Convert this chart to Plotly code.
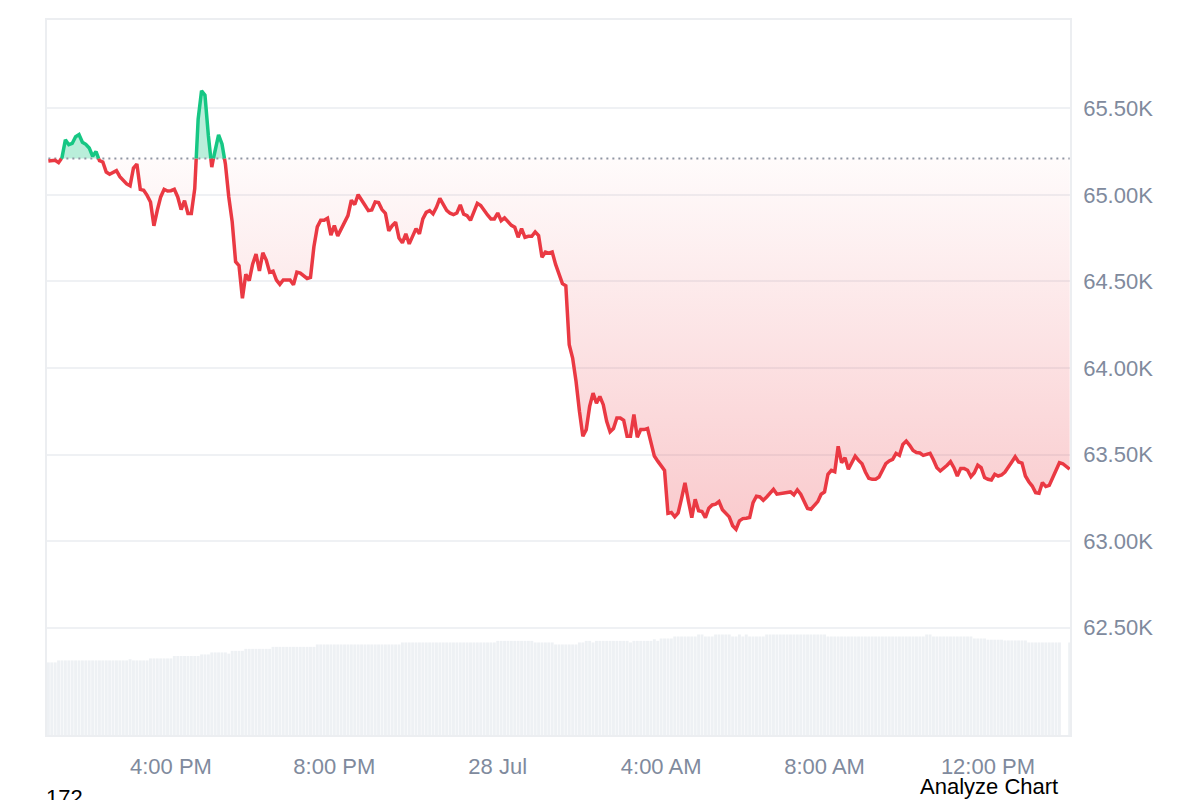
import plotly.graph_objects as go
import pandas as pd

# BTC price, 5 minute steps from 27 Jul 13:00 to 28 Jul 14:00
price = [
    65195, 65197, 65200, 65186, 65215, 65318, 65290, 65297, 65336, 65348,
    65304, 65292, 65271, 65223, 65250, 65198, 65190, 65132, 65119, 65132,
    65140, 65105, 65082, 65063, 65052, 65155, 65178, 65032, 65026, 64997,
    64959, 64821, 64911, 64988, 65032, 65022, 65024, 65032, 64988, 64915,
    64967, 64892, 64892, 65036, 65438, 65601, 65576, 65342, 65160, 65265,
    65346, 65294, 65179, 64988, 64844, 64614, 64591, 64403, 64541, 64505,
    64600, 64658, 64560, 64665, 64623, 64553, 64559, 64508, 64483, 64508,
    64508, 64508, 64481, 64553, 64548, 64534, 64517, 64523, 64700, 64815,
    64853, 64853, 64865, 64767, 64822, 64763, 64800, 64838, 64880, 64969,
    64944, 65001, 64974, 64940, 64909, 64913, 64959, 64955, 64915, 64894,
    64792, 64822, 64842, 64750, 64723, 64775, 64717, 64761, 64805, 64775,
    64861, 64899, 64909, 64890, 64928, 64980, 64942, 64911, 64894, 64886,
    64895, 64942, 64888, 64880, 64853, 64903, 64951, 64938, 64909, 64884,
    64861, 64861, 64895, 64851, 64867, 64842, 64824, 64813, 64755, 64805,
    64755, 64761, 64761, 64786, 64765, 64640, 64669, 64663, 64670, 64598,
    64536, 64487, 64475, 64134, 64057, 63923, 63750, 63606, 63644, 63778,
    63855, 63797, 63835, 63788, 63692, 63631, 63650, 63711, 63711, 63698,
    63606, 63606, 63731, 63600, 63644, 63644, 63650, 63567, 63491, 63462,
    63433, 63408, 63160, 63165, 63140, 63163, 63247, 63337, 63232, 63136,
    63242, 63175, 63171, 63136, 63190, 63209, 63213, 63228, 63181, 63159,
    63140, 63089, 63068, 63117, 63130, 63132, 63136, 63222, 63259, 63255,
    63236, 63255, 63280, 63299, 63271, 63274, 63274, 63278, 63284, 63267,
    63296, 63271, 63228, 63188, 63184, 63203, 63228, 63271, 63284, 63386,
    63409, 63401, 63548, 63453, 63482, 63415, 63453, 63491, 63466, 63447,
    63399, 63363, 63357, 63357, 63370, 63409, 63447, 63463, 63472, 63507,
    63495, 63558, 63578, 63553, 63524, 63512, 63509, 63495, 63501, 63507,
    63468, 63424, 63405, 63420, 63438, 63459, 63424, 63376, 63420, 63420,
    63409, 63372, 63395, 63438, 63424, 63367, 63357, 63353, 63386, 63376,
    63382, 63399, 63424, 63457, 63487, 63457, 63451, 63376, 63343, 63318,
    63280, 63276, 63338, 63315, 63322, 63367, 63409, 63453, 63447, 63432,
    63415,
]

# volume per bar (B)
volume = [
    18.2, 18.2, 18.2, 18.7, 18.7, 18.7, 18.7, 18.7, 18.7, 18.7,
    18.7, 18.7, 18.7, 18.7, 18.7, 18.7, 18.7, 18.7, 18.7, 18.7,
    18.7, 18.7, 18.7, 18.7, 19.0, 18.7, 18.7, 18.7, 18.7, 18.7,
    19.2, 19.2, 19.2, 19.2, 19.2, 19.2, 19.2, 19.8, 19.8, 19.8,
    19.8, 19.8, 19.8, 19.8, 19.8, 20.2, 20.2, 20.2, 20.7, 20.7,
    20.7, 20.7, 20.7, 20.4, 21.1, 21.1, 21.1, 21.1, 21.6, 21.6,
    21.6, 21.6, 21.6, 21.6, 21.6, 21.6, 22.1, 22.1, 22.1, 22.1,
    22.1, 22.1, 22.1, 22.1, 22.1, 22.1, 22.1, 22.1, 22.1, 22.7,
    22.7, 22.7, 22.7, 22.7, 22.7, 22.7, 22.7, 22.7, 22.7, 22.7,
    22.7, 22.7, 22.7, 22.7, 22.7, 22.7, 22.7, 22.7, 22.7, 22.7,
    22.7, 22.7, 22.7, 22.7, 23.2, 23.2, 23.2, 23.2, 23.2, 23.2,
    23.2, 23.2, 23.2, 23.2, 23.2, 23.2, 23.2, 23.2, 23.2, 23.2,
    23.2, 23.2, 23.2, 23.2, 23.2, 23.2, 23.2, 23.2, 23.2, 23.2,
    23.2, 23.2, 23.6, 23.6, 23.6, 23.6, 23.6, 23.6, 23.6, 23.6,
    23.6, 23.6, 23.6, 23.2, 23.2, 23.2, 23.2, 23.2, 23.2, 22.7,
    22.7, 22.7, 22.7, 22.7, 22.7, 22.7, 23.2, 23.2, 23.6, 23.6,
    23.2, 23.6, 23.6, 23.6, 23.6, 23.6, 23.6, 23.6, 23.6, 23.6,
    23.6, 23.2, 23.6, 23.6, 23.6, 23.6, 23.6, 23.6, 24.0, 23.6,
    24.2, 24.2, 24.2, 24.2, 24.7, 24.7, 24.7, 24.7, 24.7, 24.7,
    24.7, 25.2, 25.2, 24.7, 24.7, 24.7, 25.2, 25.2, 25.2, 25.2,
    25.2, 24.7, 24.7, 25.2, 24.7, 25.2, 24.7, 24.7, 24.7, 24.7,
    24.7, 25.2, 25.2, 25.2, 25.2, 25.2, 25.2, 25.2, 25.2, 25.2,
    25.2, 25.2, 25.2, 25.2, 25.2, 25.2, 25.2, 25.2, 25.2, 24.7,
    24.7, 24.7, 24.7, 24.7, 24.7, 24.7, 24.7, 24.7, 24.7, 24.7,
    24.7, 24.7, 24.7, 24.7, 24.7, 24.7, 24.7, 24.7, 24.7, 24.7,
    24.7, 24.7, 24.7, 24.7, 24.7, 24.7, 24.7, 24.7, 25.2, 25.2,
    24.7, 24.7, 24.7, 24.7, 24.7, 24.7, 24.7, 24.7, 24.7, 24.7,
    24.7, 24.7, 24.2, 24.2, 24.2, 24.2, 23.9, 23.9, 23.9, 23.9,
    23.9, 23.7, 23.7, 23.7, 23.7, 23.7, 23.7, 23.7, 23.2, 23.2,
    23.2, 23.2, 23.2, 23.2, 23.2, 23.2, 23.2, 23.2, None, None,
    23.2,
]

base_price = 65210  # price 24h ago (dotted line)

y_ticks = [62500, 63000, 63500, 64000, 64500, 65000, 65500]
y_labels = ["62.50K", "63.00K", "63.50K", "64.00K", "64.50K", "65.00K", "65.50K"]
x_ticks = ["2024-07-27 16:00", "2024-07-27 20:00", "2024-07-28 00:00",
           "2024-07-28 04:00", "2024-07-28 08:00", "2024-07-28 12:00"]
x_labels = ["4:00 PM", "8:00 PM", "28 Jul", "4:00 AM", "8:00 AM", "12:00 PM"]

RED = "#ea3943"
GREEN = "#16c784"
GREY = "#808a9d"

times = list(pd.date_range("2024-07-27 13:00", periods=len(price), freq="5min"))

# add the points where the line crosses the base price so colours split cleanly
xs, ys = [times[0]], [price[0]]
for i in range(1, len(price)):
    p0, p1 = price[i - 1], price[i]
    if (p0 - base_price) * (p1 - base_price) < 0:
        f = (base_price - p0) / (p1 - p0)
        xs.append(times[i - 1] + f * (times[i] - times[i - 1]))
        ys.append(base_price)
    xs.append(times[i])
    ys.append(p1)

below = [min(v, base_price) for v in ys]
above = [max(v, base_price) for v in ys]
red_line = [v if v <= base_price else None for v in ys]
green_line = [v if v >= base_price else None for v in ys]
base_line = [base_price] * len(xs)

fig = go.Figure()

fig.add_trace(go.Bar(x=times, y=volume, yaxis="y2",
                     marker=dict(color="#eef1f4", line_width=0)))

fig.add_trace(go.Scatter(x=xs, y=base_line, mode="lines", line_width=0))
fig.add_trace(go.Scatter(x=xs, y=below, mode="lines", line_width=0, fill="tonexty",
                         fillgradient=dict(type="vertical", start=63050, stop=base_price,
                                           colorscale=[[0, "rgba(234,57,67,0.27)"],
                                                       [1, "rgba(234,57,67,0.02)"]])))
fig.add_trace(go.Scatter(x=xs, y=base_line, mode="lines", line_width=0))
fig.add_trace(go.Scatter(x=xs, y=above, mode="lines", line_width=0, fill="tonexty",
                         fillcolor="rgba(22,199,132,0.3)"))

fig.add_trace(go.Scatter(x=[times[0], times[-1]], y=[base_price, base_price], mode="lines",
                         line=dict(color="#8f96a3", width=2, dash="2px,4px")))

fig.add_trace(go.Scatter(x=xs, y=red_line, mode="lines",
                         line=dict(color=RED, width=3.5)))
fig.add_trace(go.Scatter(x=xs, y=green_line, mode="lines",
                         line=dict(color=GREEN, width=3.5)))

fig.update_layout(
    width=1200, height=800,
    margin=dict(l=39, r=138, t=10, b=73),
    paper_bgcolor="white", plot_bgcolor="white",
    showlegend=False, bargap=0.15,
    font=dict(family="Liberation Sans, Arial, sans-serif", size=22, color=GREY),
    xaxis=dict(range=["2024-07-27 12:58", "2024-07-28 14:00:30"],
               tickvals=x_ticks, ticktext=x_labels,
               showgrid=False, zeroline=False,
               showline=True, linecolor="#eceef1", linewidth=1.5, mirror=True,
               ticks="", ticklabelstandoff=11),
    yaxis=dict(range=[61880, 66010], side="right",
               tickvals=y_ticks, ticktext=y_labels,
               showgrid=True, gridcolor="#eff1f4", gridwidth=1.5, zeroline=False,
               showline=True, linecolor="#eceef1", linewidth=1.5, mirror=True,
               ticks="", ticklabelstandoff=7),
    yaxis2=dict(range=[0, 179.25], overlaying="y", visible=False),
    annotations=[
        dict(text="172", x=-0.003, y=-0.088, xref="paper", yref="paper",
             xanchor="left", yanchor="middle", showarrow=False,
             font=dict(color="black", size=22)),
        dict(text="Analyze Chart", x=0.851, y=-0.0725, xref="paper", yref="paper",
             xanchor="left", yanchor="middle", showarrow=False,
             font=dict(color="black", size=22)),
    ],
)

fig.write_html("out.html")
